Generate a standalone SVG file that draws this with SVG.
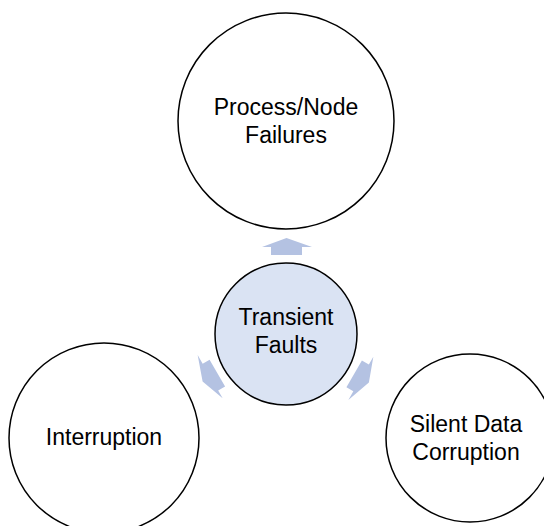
<svg xmlns="http://www.w3.org/2000/svg" width="544" height="526" viewBox="0 0 544 526">
<style>
.outer{fill:#ffffff;stroke:#000000;stroke-width:1.5}
.center{fill:#dae3f3;stroke:#000000;stroke-width:1.5}
.arrow{fill:#b4c2e2;stroke:none}
text{font-family:"Liberation Sans",Arial,sans-serif;font-size:23px;fill:#000000;text-anchor:middle}
</style>
<defs>
<polygon id="arr" points="286.5,238 312,247 302,247 302,255 271,255 271,247 262,247"/>
</defs>
<rect width="544" height="526" fill="#ffffff"/>
<g id="connectors">
<use href="#arr" class="arrow"/>
<use href="#arr" class="arrow" transform="rotate(120 286 334)"/>
<use href="#arr" class="arrow" transform="rotate(-120 286 334)"/>
</g>
<g id="node-top">
<circle class="outer" cx="286" cy="121" r="108"/>
<text x="286" y="115">Process/Node</text>
<text x="286" y="143">Failures</text>
</g>
<g id="node-left">
<circle class="outer" cx="104" cy="438" r="95"/>
<text x="104" y="445">Interruption</text>
</g>
<g id="node-right">
<circle class="outer" cx="470" cy="438" r="84"/>
<text x="466" y="432">Silent Data</text>
<text x="466" y="460">Corruption</text>
</g>
<g id="node-center">
<circle class="center" cx="286" cy="334" r="71"/>
<text x="286" y="325">Transient</text>
<text x="286" y="353">Faults</text>
</g>
</svg>
